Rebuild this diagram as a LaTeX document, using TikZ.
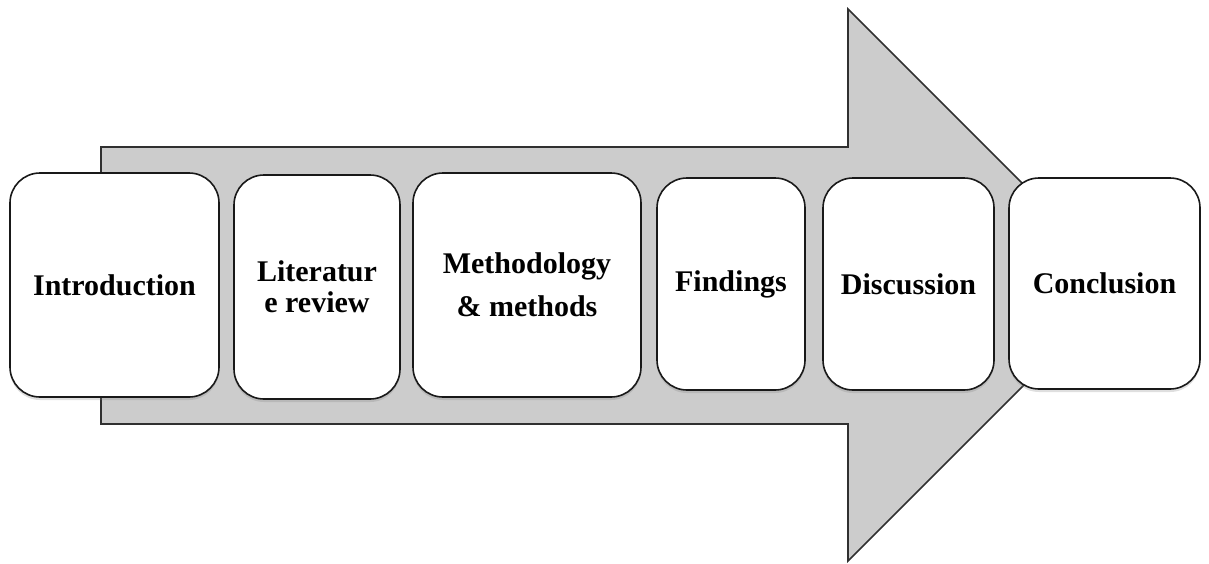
\documentclass[tikz,border=0pt]{standalone}
\usepackage{fontspec}
\setmainfont{Liberation Serif}
\usetikzlibrary{shadows}

\definecolor{arrowgray}{HTML}{CCCCCC}
\definecolor{edgegray}{HTML}{303030}

\begin{document}
\begin{tikzpicture}[x=1pt,y=-1pt,
	stage/.style={draw=black!90,line width=1.6pt,fill=white,rounded corners=30pt,
		inner sep=4pt,align=center,font=\bfseries\fontsize{30}{31}\selectfont,
		drop shadow={opacity=0.25,shadow xshift=0pt,shadow yshift=-3pt}}]
	
	\useasboundingbox (0,0) rectangle (1209,563);
	
	% big arrow behind the stages
	\filldraw[fill=arrowgray,draw=edgegray,line width=1.6pt] (101,147) -- (848,147) -- (848,9) -- (1124,285) -- (848,561) -- (848,424) -- (101,424) -- cycle;
	
	\node[stage,minimum width=209pt,minimum height=224pt] (intro) at (114.5,285) {Introduction};
	\node[stage,minimum width=166pt,minimum height=224pt] (litrev) at (317,287) {Literatur\\e review};
	\node[stage,minimum width=228pt,minimum height=224pt] (method) at (527,285) {Methodology\\[12pt]\& methods};
	\node[stage,minimum width=148pt,minimum height=212pt] (findings) at (731,284) {Findings};
	\node[stage,minimum width=171pt,minimum height=212pt] (discuss) at (908.5,284) {Discussion};
	\node[stage,minimum width=191pt,minimum height=211pt] (concl) at (1104.5,283.5) {Conclusion};
	%\draw (intro) -- (concl);
\end{tikzpicture}
\end{document}
